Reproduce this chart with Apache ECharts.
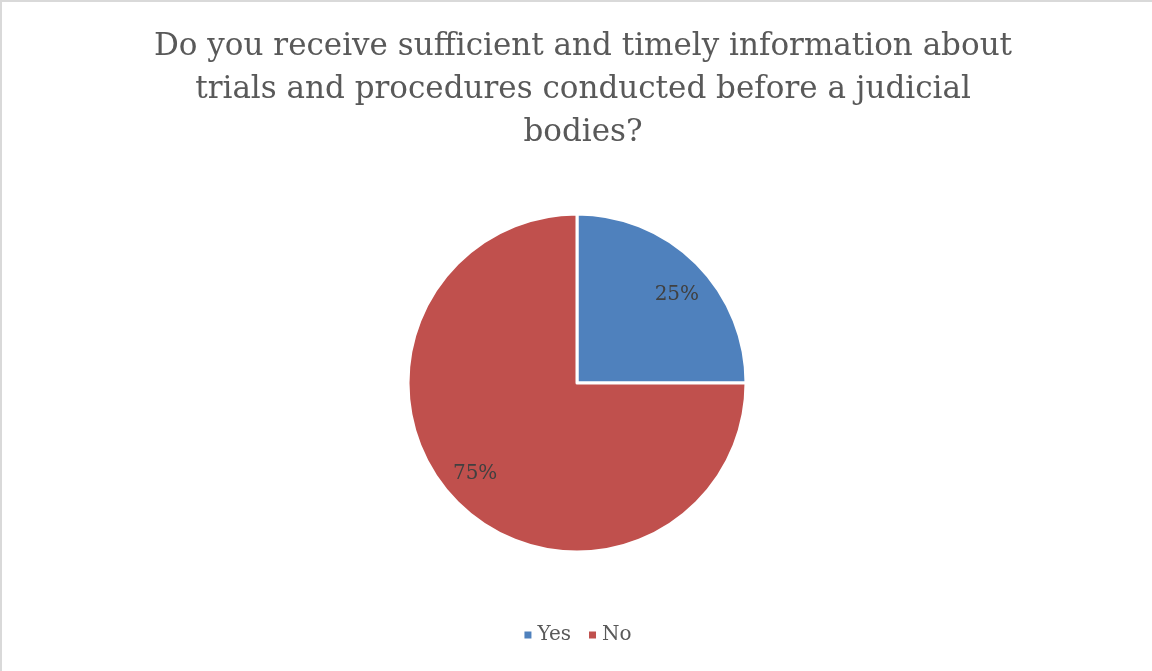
<!DOCTYPE html>
<html>
<head>
<meta charset="utf-8">
<script src="https://cdn.jsdelivr.net/npm/echarts@6/dist/echarts.min.js"></script>
<style>
  html, body { margin: 0; padding: 0; background: #fff; }
  #chart { width: 1152px; height: 671px; box-sizing: border-box; border-top: 2px solid #d9d9d9; border-left: 2px solid #d9d9d9; }
</style>
</head>
<body>
<div id="chart"></div>
<script>
  // data
  var categories = ['Yes', 'No'];
  var shares = [25, 75];
  var colors = ['#4f81bd', '#c0504d'];
  // nudges so the labels sit where the reference has them
  var labelOffsets = [[38, -26], [-40, 29]];

  var titleText = 'Do you receive sufficient and timely information about\ntrials and procedures conducted before a judicial\nbodies?';
  var serif = 'DejaVu Serif, Liberation Serif, serif';

  var chart = echarts.init(document.getElementById('chart'));
  var option = {
    animation: false,
    title: {
      text: titleText,
      left: 576,
      top: 18,
      textAlign: 'center',
      textStyle: {
        fontFamily: serif,
        fontWeight: 'normal',
        fontSize: 31,
        lineHeight: 43,
        color: '#595959'
      }
    },
    legend: {
      data: categories,
      bottom: 21,
      left: 'center',
      itemWidth: 9,
      itemHeight: 9,
      itemGap: 16,
      icon: 'rect',
      textStyle: {
        fontFamily: serif,
        fontSize: 20,
        color: '#595959'
      }
    },
    series: [{
      type: 'pie',
      center: [575, 381],
      radius: 169,
      startAngle: 90,
      clockwise: true,
      itemStyle: { borderColor: '#fff', borderWidth: 3 },
      label: {
        position: 'inside',
        formatter: '{d}%',
        fontFamily: serif,
        fontSize: 20,
        color: '#404040'
      },
      labelLine: { show: false },
      data: categories.map(function (c, i) {
        return {
          name: c,
          value: shares[i],
          itemStyle: { color: colors[i] },
          label: { offset: labelOffsets[i] }
        };
      })
    }]
  };
  chart.setOption(option);
  window.addEventListener('resize', chart.resize);
</script>
</body>
</html>
